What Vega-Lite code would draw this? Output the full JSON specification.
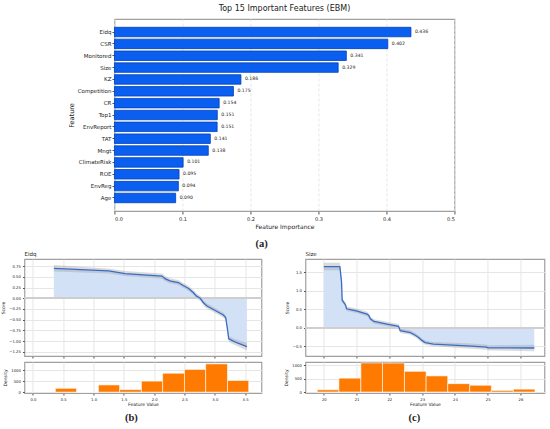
{
  "$schema": "https://vega.github.io/schema/vega-lite/v6.json",
  "background": "white",
  "padding": {"top": 4, "left": 0, "right": 2, "bottom": 2},
  "config": {
    "font": "DejaVu Sans",
    "view": {"stroke": "#a0a0a0", "strokeWidth": 1.2},
    "axis": {"domain": false, "tickColor": "#555", "labelColor": "#222", "titleColor": "#222", "titleFontWeight": "normal", "gridColor": "#e6e6e6", "labelOverlap": false},
    "title": {"fontWeight": "normal", "color": "#222"},
    "concat": {"spacing": 4}
  },
  "datasets": {
    "imp": [
      {"feature": "Eidq", "importance": 0.436},
      {"feature": "CSR", "importance": 0.402},
      {"feature": "Monitored", "importance": 0.341},
      {"feature": "Size", "importance": 0.329},
      {"feature": "KZ", "importance": 0.186},
      {"feature": "Competition", "importance": 0.175},
      {"feature": "CR", "importance": 0.154},
      {"feature": "Top1", "importance": 0.1512},
      {"feature": "EnvReport", "importance": 0.151},
      {"feature": "TAT", "importance": 0.141},
      {"feature": "Mngt", "importance": 0.138},
      {"feature": "ClimateRisk", "importance": 0.101},
      {"feature": "ROE", "importance": 0.095},
      {"feature": "EnvReg", "importance": 0.094},
      {"feature": "Age", "importance": 0.090}
    ],
    "eidq": [
      {"x": 0.345, "y": 0.70, "lo": 0.63, "hi": 0.78},
      {"x": 1.25, "y": 0.64, "lo": 0.58, "hi": 0.70},
      {"x": 1.52, "y": 0.58, "lo": 0.52, "hi": 0.64},
      {"x": 2.13, "y": 0.52, "lo": 0.46, "hi": 0.58},
      {"x": 2.18, "y": 0.46, "lo": 0.40, "hi": 0.52},
      {"x": 2.26, "y": 0.41, "lo": 0.35, "hi": 0.47},
      {"x": 2.40, "y": 0.37, "lo": 0.31, "hi": 0.43},
      {"x": 2.48, "y": 0.30, "lo": 0.24, "hi": 0.36},
      {"x": 2.57, "y": 0.23, "lo": 0.17, "hi": 0.29},
      {"x": 2.65, "y": 0.13, "lo": 0.07, "hi": 0.19},
      {"x": 2.70, "y": 0.05, "lo": -0.01, "hi": 0.11},
      {"x": 2.76, "y": 0.00, "lo": -0.06, "hi": 0.06},
      {"x": 2.81, "y": -0.10, "lo": -0.16, "hi": -0.04},
      {"x": 2.87, "y": -0.18, "lo": -0.24, "hi": -0.12},
      {"x": 3.00, "y": -0.28, "lo": -0.34, "hi": -0.22},
      {"x": 3.14, "y": -0.39, "lo": -0.45, "hi": -0.33},
      {"x": 3.18, "y": -0.45, "lo": -0.51, "hi": -0.39},
      {"x": 3.21, "y": -0.73, "lo": -0.80, "hi": -0.66},
      {"x": 3.23, "y": -0.95, "lo": -1.02, "hi": -0.88},
      {"x": 3.33, "y": -1.02, "lo": -1.09, "hi": -0.95},
      {"x": 3.53, "y": -1.13, "lo": -1.22, "hi": -1.04}
    ],
    "eidqHist": [
      {"x0": 0.37, "x1": 0.72, "n": 174},
      {"x0": 0.72, "x1": 1.08, "n": 0},
      {"x0": 1.08, "x1": 1.43, "n": 330},
      {"x0": 1.43, "x1": 1.79, "n": 116},
      {"x0": 1.79, "x1": 2.14, "n": 505},
      {"x0": 2.14, "x1": 2.50, "n": 865},
      {"x0": 2.50, "x1": 2.85, "n": 1040},
      {"x0": 2.85, "x1": 3.21, "n": 1295},
      {"x0": 3.21, "x1": 3.56, "n": 535}
    ],
    "size": [
      {"x": 20.0, "y": 1.645, "lo": 1.55, "hi": 1.75},
      {"x": 20.49, "y": 1.645, "lo": 1.55, "hi": 1.75},
      {"x": 20.54, "y": 1.24, "lo": 1.17, "hi": 1.31},
      {"x": 20.56, "y": 0.74, "lo": 0.68, "hi": 0.80},
      {"x": 20.62, "y": 0.67, "lo": 0.61, "hi": 0.73},
      {"x": 20.67, "y": 0.60, "lo": 0.54, "hi": 0.66},
      {"x": 20.69, "y": 0.51, "lo": 0.45, "hi": 0.57},
      {"x": 20.82, "y": 0.49, "lo": 0.43, "hi": 0.55},
      {"x": 21.02, "y": 0.45, "lo": 0.39, "hi": 0.51},
      {"x": 21.32, "y": 0.37, "lo": 0.31, "hi": 0.43},
      {"x": 21.37, "y": 0.33, "lo": 0.27, "hi": 0.39},
      {"x": 21.42, "y": 0.24, "lo": 0.18, "hi": 0.30},
      {"x": 21.53, "y": 0.17, "lo": 0.11, "hi": 0.23},
      {"x": 21.93, "y": 0.10, "lo": 0.04, "hi": 0.16},
      {"x": 22.28, "y": 0.04, "lo": -0.02, "hi": 0.10},
      {"x": 22.33, "y": -0.08, "lo": -0.14, "hi": -0.02},
      {"x": 22.64, "y": -0.13, "lo": -0.19, "hi": -0.07},
      {"x": 22.79, "y": -0.20, "lo": -0.26, "hi": -0.14},
      {"x": 22.89, "y": -0.26, "lo": -0.32, "hi": -0.20},
      {"x": 22.99, "y": -0.34, "lo": -0.40, "hi": -0.28},
      {"x": 23.09, "y": -0.40, "lo": -0.46, "hi": -0.34},
      {"x": 23.34, "y": -0.44, "lo": -0.50, "hi": -0.38},
      {"x": 24.35, "y": -0.49, "lo": -0.56, "hi": -0.42},
      {"x": 24.96, "y": -0.52, "lo": -0.59, "hi": -0.45},
      {"x": 25.01, "y": -0.54, "lo": -0.61, "hi": -0.47},
      {"x": 26.42, "y": -0.545, "lo": -0.63, "hi": -0.46}
    ],
    "sizeHist": [
      {"x0": 19.80, "x1": 20.46, "n": 84},
      {"x0": 20.46, "x1": 21.13, "n": 518},
      {"x0": 21.13, "x1": 21.79, "n": 1085},
      {"x0": 21.79, "x1": 22.46, "n": 1080},
      {"x0": 22.46, "x1": 23.12, "n": 771},
      {"x0": 23.12, "x1": 23.78, "n": 602},
      {"x0": 23.78, "x1": 24.45, "n": 313},
      {"x0": 24.45, "x1": 25.11, "n": 253},
      {"x0": 25.11, "x1": 25.78, "n": 60},
      {"x0": 25.78, "x1": 26.44, "n": 108}
    ]
  },
  "center": true,
  "spacing": 0,
  "vconcat": [
    {
      "title": {"text": "(a)", "orient": "bottom", "anchor": "middle", "font": "Liberation Serif", "fontWeight": "bold", "fontSize": 10.5, "offset": 9},
      "vconcat": [
        {
          "title": {"text": "Top 15 Important Features (EBM)", "fontSize": 8, "offset": 6},
          "width": 340,
          "height": 192,
          "data": {"name": "imp"},
          "encoding": {
            "y": {
              "field": "feature", "type": "nominal", "sort": "-x",
              "scale": {"paddingInner": 0.2, "paddingOuter": 0.7},
              "axis": {"title": "Feature", "titleFontSize": 6.5, "labelFontSize": 5.5, "tickSize": 2.5, "labelPadding": 1, "titlePadding": 3}
            },
            "x": {
              "field": "importance", "type": "quantitative",
              "scale": {"domain": [0, 0.5], "nice": false},
              "axis": {"title": "Feature Importance", "titleFontSize": 6, "labelFontSize": 5, "format": ".1f", "values": [0, 0.1, 0.2, 0.3, 0.4, 0.5], "tickCount": 20, "tickSize": 3, "grid": true, "gridDash": [3, 2], "titlePadding": 2}
            }
          },
          "layer": [
            {"mark": {"type": "bar", "color": "#0a5ff0", "stroke": "#0040b8", "strokeWidth": 0.8}},
            {
              "mark": {"type": "text", "align": "left", "dx": 4, "fontSize": 4.6, "color": "#222"},
              "encoding": {"text": {"field": "importance", "type": "quantitative", "format": ".3f"}}
            }
          ]
        }
      ]
    },
    {
      "spacing": 19,
      "hconcat": [
        {
          "title": {"text": "(b)", "orient": "bottom", "anchor": "middle", "font": "Liberation Serif", "fontWeight": "bold", "fontSize": 10.5, "offset": 6},
          "spacing": 1,
          "vconcat": [
            {
              "title": {"text": "Eidq", "fontSize": 5.5, "anchor": "start", "frame": "group", "offset": 2},
              "width": 237,
              "height": 97,
              "data": {"name": "eidq"},
              "encoding": {
                "x": {"field": "x", "type": "quantitative", "scale": {"domain": [-0.14, 3.77], "nice": false, "zero": false},
                  "axis": {"title": null, "labels": false, "values": [0, 0.5, 1, 1.5, 2, 2.5, 3, 3.5], "tickCount": 20, "tickSize": 2, "grid": true}}
              },
              "layer": [
                {
                  "mark": {"type": "area", "color": "#d3e1f7"},
                  "encoding": {
                    "y": {"field": "y", "type": "quantitative", "scale": {"domain": [-1.35, 0.92], "nice": false},
                      "axis": {"title": "Score", "titleFontSize": 4.5, "labelFontSize": 3.8, "format": ".2f", "values": [-1.25, -1, -0.75, -0.5, -0.25, 0, 0.25, 0.5, 0.75], "tickCount": 20, "tickSize": 2, "grid": true, "titlePadding": 3}},
                    "y2": {"datum": 0}
                  }
                },
                {
                  "mark": {"type": "area", "color": "#999999", "opacity": 0.35},
                  "encoding": {"y": {"field": "lo", "type": "quantitative"}, "y2": {"field": "hi"}}
                },
                {
                  "mark": {"type": "rule", "color": "#cfcfcf", "strokeWidth": 1},
                  "encoding": {"y": {"datum": 0}, "x": {"datum": -0.14}, "x2": {"datum": 3.77}}
                },
                {
                  "mark": {"type": "line", "color": "#3a6cc6", "strokeWidth": 1.3},
                  "encoding": {"y": {"field": "y", "type": "quantitative"}}
                }
              ]
            },
            {
              "width": 237,
              "height": 31,
              "data": {"name": "eidqHist"},
              "mark": {"type": "rect", "color": "#ff7a00", "stroke": "white", "strokeWidth": 0.6},
              "encoding": {
                "x": {"field": "x0", "type": "quantitative", "scale": {"domain": [-0.14, 3.77], "nice": false, "zero": false},
                  "axis": {"title": "Feature Value", "titleFontSize": 4.5, "labelFontSize": 3.8, "format": ".1f", "values": [0, 0.5, 1, 1.5, 2, 2.5, 3, 3.5], "tickCount": 20, "tickSize": 2, "grid": true, "titlePadding": 1}},
                "x2": {"field": "x1"},
                "y": {"field": "n", "type": "quantitative", "scale": {"domain": [-40, 1380], "nice": false},
                  "axis": {"title": "Density", "titleFontSize": 4.5, "labelFontSize": 3.8, "format": "d", "values": [0, 500, 1000], "tickCount": 20, "tickSize": 2, "grid": true, "titlePadding": 3}},
                "y2": {"datum": 0}
              }
            }
          ]
        },
        {
          "title": {"text": "(c)", "orient": "bottom", "anchor": "middle", "font": "Liberation Serif", "fontWeight": "bold", "fontSize": 10.5, "offset": 6},
          "spacing": 1,
          "vconcat": [
            {
              "title": {"text": "Size", "fontSize": 5.5, "anchor": "start", "frame": "group", "offset": 2},
              "width": 239,
              "height": 97,
              "data": {"name": "size"},
              "encoding": {
                "x": {"field": "x", "type": "quantitative", "scale": {"domain": [19.44, 26.73], "nice": false, "zero": false},
                  "axis": {"title": null, "labels": false, "values": [20, 21, 22, 23, 24, 25, 26], "tickCount": 20, "tickSize": 2, "grid": true}}
              },
              "layer": [
                {
                  "mark": {"type": "area", "color": "#d3e1f7"},
                  "encoding": {
                    "y": {"field": "y", "type": "quantitative", "scale": {"domain": [-0.76, 1.85], "nice": false},
                      "axis": {"title": "Score", "titleFontSize": 4.5, "labelFontSize": 3.8, "format": ".1f", "values": [-0.5, 0, 0.5, 1, 1.5], "tickCount": 20, "tickSize": 2, "grid": true, "titlePadding": 3}},
                    "y2": {"datum": 0}
                  }
                },
                {
                  "mark": {"type": "area", "color": "#999999", "opacity": 0.35},
                  "encoding": {"y": {"field": "lo", "type": "quantitative"}, "y2": {"field": "hi"}}
                },
                {
                  "mark": {"type": "rule", "color": "#cfcfcf", "strokeWidth": 1},
                  "encoding": {"y": {"datum": 0}, "x": {"datum": 19.44}, "x2": {"datum": 26.73}}
                },
                {
                  "mark": {"type": "line", "color": "#3a6cc6", "strokeWidth": 1.3},
                  "encoding": {"y": {"field": "y", "type": "quantitative"}}
                }
              ]
            },
            {
              "width": 239,
              "height": 31,
              "data": {"name": "sizeHist"},
              "mark": {"type": "rect", "color": "#ff7a00", "stroke": "white", "strokeWidth": 0.6},
              "encoding": {
                "x": {"field": "x0", "type": "quantitative", "scale": {"domain": [19.44, 26.73], "nice": false, "zero": false},
                  "axis": {"title": "Feature Value", "titleFontSize": 4.5, "labelFontSize": 3.8, "format": "d", "values": [20, 21, 22, 23, 24, 25, 26], "tickCount": 20, "tickSize": 2, "grid": true, "titlePadding": 1}},
                "x2": {"field": "x1"},
                "y": {"field": "n", "type": "quantitative", "scale": {"domain": [-36, 1120], "nice": false},
                  "axis": {"title": "Density", "titleFontSize": 4.5, "labelFontSize": 3.8, "format": "d", "values": [0, 500, 1000], "tickCount": 20, "tickSize": 2, "grid": true, "titlePadding": 3}},
                "y2": {"datum": 0}
              }
            }
          ]
        }
      ]
    }
  ]
}
